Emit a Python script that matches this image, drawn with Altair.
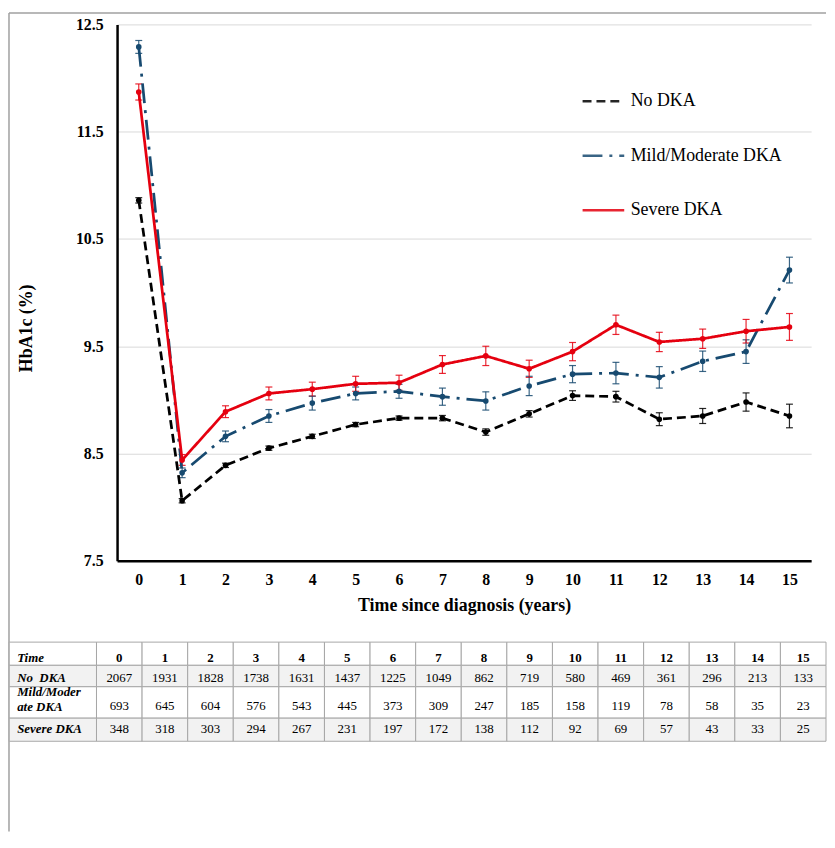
import altair as alt
import pandas as pd

# ---------------- data ----------------
YEARS = list(range(16))
SERIES = ["No DKA", "Mild/Moderate DKA", "Severe DKA"]

NO_DKA = [10.86, 8.06, 8.39, 8.55, 8.66, 8.77, 8.83, 8.83, 8.70, 8.87, 9.04, 9.03, 8.82, 8.85, 8.98, 8.85]
NO_DKA_ERR = [0.025, 0.02, 0.02, 0.02, 0.02, 0.02, 0.02, 0.025, 0.03, 0.03, 0.045, 0.05, 0.06, 0.07, 0.085, 0.11]

MILD = [12.29, 8.32, 8.66, 8.85, 8.97, 9.06, 9.08, 9.03, 8.99, 9.13, 9.24, 9.25, 9.21, 9.36, 9.45, 10.21]
MILD_ERR = [0.06, 0.045, 0.05, 0.06, 0.065, 0.06, 0.065, 0.08, 0.085, 0.09, 0.08, 0.10, 0.10, 0.095, 0.11, 0.12]

SEVERE = [11.87, 8.44, 8.89, 9.06, 9.10, 9.15, 9.16, 9.33, 9.41, 9.29, 9.45, 9.70, 9.54, 9.57, 9.64, 9.68]
SEVERE_ERR = [0.075, 0.05, 0.055, 0.06, 0.065, 0.07, 0.07, 0.083, 0.09, 0.08, 0.085, 0.09, 0.09, 0.09, 0.11, 0.125]

TABLE_ROW_LABELS = ["Time", "No\u00a0\u00a0DKA", "Mild/Moder\nate DKA", "Severe DKA"]
N_NO_DKA = [2067, 1931, 1828, 1738, 1631, 1437, 1225, 1049, 862, 719, 580, 469, 361, 296, 213, 133]
N_MILD = [693, 645, 604, 576, 543, 445, 373, 309, 247, 185, 158, 119, 78, 58, 35, 23]
N_SEVERE = [348, 318, 303, 294, 267, 231, 197, 172, 138, 112, 92, 69, 57, 43, 33, 25]

Y_TICKS = [7.5, 8.5, 9.5, 10.5, 11.5, 12.5]

# ---------------- styles / layout ----------------
COLORS = ["#000000", "#174A70", "#E5000F"]
DASHES = [[9, 5], [20, 7, 3, 7], [1, 0]]
FONT = "Liberation Serif"
W, H = 700, 541

# table layout (pixel offsets relative to plot origin)
T_LEFT, T_DATA_LEFT, T_RIGHT = -108.75, -20.75, 715.0
T_TOP, T_BOTTOM = 623.0, 723.0
ROW_EDGES = [0, 23.4, 45, 76.7, 100]
ROW_TEXT_Y = [16, 36.5, 64.2, 87.7]
MILD_HEAD_Y = 50.5
COL_W = (T_RIGHT - T_DATA_LEFT) / 16
HEAD_W = (T_DATA_LEFT - T_LEFT) / COL_W

# ---------------- frames ----------------
recs = []
for name, means, errs in zip(SERIES, [NO_DKA, MILD, SEVERE], [NO_DKA_ERR, MILD_ERR, SEVERE_ERR]):
    for t, m, e in zip(YEARS, means, errs):
        recs.append(dict(series=name, time=t, hba1c=m, lo=m - e, hi=m + e))
df = pd.DataFrame(recs)

trecs = []
row_vals = [YEARS, N_NO_DKA, N_MILD, N_SEVERE]
for r in range(4):
    for c in range(-1, 16):
        if c == -1:
            x0, x1, tx = -HEAD_W, 0.0, -HEAD_W
            txt = TABLE_ROW_LABELS[r]
            kind = "rowhead"
            ty = MILD_HEAD_Y if r == 2 else ROW_TEXT_Y[r]
        else:
            x0, x1, tx = c, c + 1, c + 0.5
            txt = str(row_vals[r][c])
            kind = "colhead" if r == 0 else "value"
            ty = ROW_TEXT_Y[r]
        trecs.append(dict(row=r, x0=x0, x1=x1, tx=tx, y0=ROW_EDGES[r], y1=ROW_EDGES[r + 1],
                          ty=ty, text=txt, kind=kind))
tdf = pd.DataFrame(trecs)

# ---------------- main chart ----------------
legend = alt.Legend(
    title=None, orient="none", legendX=468, legendY=55, direction="vertical",
    symbolType="stroke", symbolSize=1764, symbolStrokeWidth=2.5,
    labelFont=FONT, labelFontSize=18, labelColor="black", labelOffset=5,
    rowPadding=23, padding=0,
)
color = alt.Color("series:N", scale=alt.Scale(domain=SERIES, range=COLORS), legend=legend)
dash = alt.StrokeDash("series:N", scale=alt.Scale(domain=SERIES, range=DASHES), legend=legend)

x_enc = alt.X(
    "time:Q",
    scale=alt.Scale(domain=[-0.5, 15.5], nice=False, zero=False),
    axis=alt.Axis(values=YEARS, title="Time since diagnosis (years)", grid=False, ticks=False,
                  format="d", labelPadding=11, titlePadding=9),
)
y_axis = alt.Axis(values=Y_TICKS, format=".1f", title="HbA1c (%)", grid=True, ticks=False,
                  labelPadding=14, titlePadding=40, titleY=306)
y_scale = alt.Scale(domain=[7.5, 12.5], nice=False, zero=False)

base = alt.Chart(df)

errbars = base.mark_errorbar(ticks=True, size=7, thickness=1.2, opacity=0.85).encode(
    x=x_enc,
    y=alt.Y("lo:Q", scale=y_scale, axis=y_axis, title="HbA1c (%)"),
    y2="hi:Q",
    color=color,
)

lines = base.mark_line(strokeWidth=2.75, strokeCap="butt").encode(
    x=x_enc,
    y=alt.Y("hba1c:Q", scale=y_scale, axis=y_axis, title="HbA1c (%)"),
    color=color,
    strokeDash=dash,
)

points = base.mark_circle(size=32, opacity=1).encode(
    x=x_enc,
    y=alt.Y("hba1c:Q", scale=y_scale, axis=y_axis, title="HbA1c (%)"),
    color=color,
)

frame_df = pd.DataFrame({"k": [0]})
frame_left = alt.Chart(frame_df).mark_rule(color="#a0a0a0", strokeWidth=1.5).encode(
    x=alt.value(-109), y=alt.value(-11.5), y2=alt.value(814)
)
frame_top = alt.Chart(frame_df).mark_rule(color="#a0a0a0", strokeWidth=1.5).encode(
    x=alt.value(-109), x2=alt.value(715), y=alt.value(-11.5)
)

main = alt.layer(frame_left, frame_top, errbars, lines, points)

# ---------------- table ----------------
tx_scale = alt.Scale(domain=[-HEAD_W, 16], range=[T_LEFT, T_RIGHT], nice=False, zero=False)
ty_scale = alt.Scale(domain=[0, 100], range=[T_TOP, T_BOTTOM], nice=False, zero=False)
tbase = alt.Chart(tdf)

cells = tbase.mark_rect(stroke="#a6a6a6", strokeWidth=1).encode(
    x=alt.X("x0:Q", scale=tx_scale, axis=None),
    x2="x1:Q",
    y=alt.Y("y0:Q", scale=ty_scale, axis=None),
    y2="y1:Q",
    fill=alt.condition("datum.row == 1 || datum.row == 3", alt.value("#f2f2f2"), alt.value("#ffffff")),
)
colhead = tbase.transform_filter("datum.kind == 'colhead'").mark_text(
    font=FONT, fontSize=13, fontWeight="bold", color="black", baseline="middle", align="center"
).encode(x=alt.X("tx:Q", scale=tx_scale, axis=None), y=alt.Y("ty:Q", scale=ty_scale, axis=None), text="text:N")
rowhead = tbase.transform_filter("datum.kind == 'rowhead'").mark_text(
    font=FONT, fontSize=13, fontWeight="bold", fontStyle="italic", color="black",
    baseline="middle", align="left", dx=8, lineBreak="\n", lineHeight=15,
).encode(x=alt.X("tx:Q", scale=tx_scale, axis=None), y=alt.Y("ty:Q", scale=ty_scale, axis=None), text="text:N")
values = tbase.transform_filter("datum.kind == 'value'").mark_text(
    font=FONT, fontSize=13, color="black", baseline="middle", align="center"
).encode(x=alt.X("tx:Q", scale=tx_scale, axis=None), y=alt.Y("ty:Q", scale=ty_scale, axis=None), text="text:N")

table = alt.layer(cells, colhead, rowhead, values)

chart = (
    alt.layer(main, table)
    .resolve_scale(x="independent", y="independent")
    .properties(width=W, height=H, padding=0, background="white")
    .configure_view(stroke=None)
    .configure_axis(
        domainColor="black", domainWidth=2.5,
        gridColor="#d9d9d9", gridWidth=1,
        labelFont=FONT, labelFontSize=16, labelFontWeight="bold", labelColor="black",
        titleFont=FONT, titleFontSize=18, titleFontWeight="bold", titleColor="black",
    )
)

chart.save("out.html", embed_options={"renderer": "svg", "actions": False})
